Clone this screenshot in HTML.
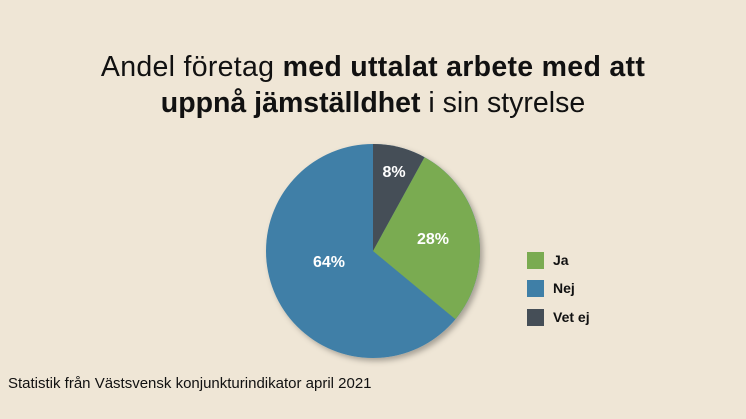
<!DOCTYPE html>
<html><head><meta charset="utf-8"><style>
html,body{margin:0;padding:0}
body{width:746px;height:419px;background:#efe6d6;position:relative;overflow:hidden;font-family:"Liberation Sans",sans-serif;color:#111}
.t{position:absolute;left:0;width:746px;text-align:center;font-size:28.5px;line-height:36px}
.l{position:absolute;font-size:14px;font-weight:bold;color:#111}
.sq{position:absolute;width:17px;height:17px}
</style></head><body>
<div class="t" style="top:49px;letter-spacing:0.3px">Andel företag <b>med uttalat arbete med att</b></div>
<div class="t" style="top:85px"><b>uppnå jämställdhet</b> i sin styrelse</div>
<svg width="746" height="419" style="position:absolute;left:0;top:0">
<defs><filter id="s" x="-20%" y="-20%" width="140%" height="140%"><feDropShadow dx="3" dy="3" stdDeviation="3" flood-color="#000" flood-opacity="0.3"/></filter></defs>
<g filter="url(#s)">
<circle cx="373" cy="251" r="107" fill="#3f7fa7"/>
</g>
<path d="M373 251 L373 144 A107 107 0 0 1 424.5 157.2 Z" fill="#454e57"/>
<path d="M373 251 L424.5 157.2 A107 107 0 0 1 455.4 319.2 Z" fill="#7aab51"/>
<g font-family="Liberation Sans,sans-serif" font-weight="bold" font-size="16" fill="#fff" text-anchor="middle">
<text x="394" y="177">8%</text>
<text x="433" y="244">28%</text>
<text x="329" y="267">64%</text>
</g>
</svg>
<div class="sq" style="left:527px;top:252px;background:#7aab51"></div>
<div class="sq" style="left:527px;top:280px;background:#3f7fa7"></div>
<div class="sq" style="left:527px;top:309px;background:#454e57"></div>
<div class="l" style="left:553px;top:252px">Ja</div>
<div class="l" style="left:553px;top:280px">Nej</div>
<div class="l" style="left:553px;top:309px">Vet ej</div>
<div style="position:absolute;left:8px;top:375px;font-size:15px;color:#111">Statistik från Västsvensk konjunkturindikator april 2021</div>
</body></html>
